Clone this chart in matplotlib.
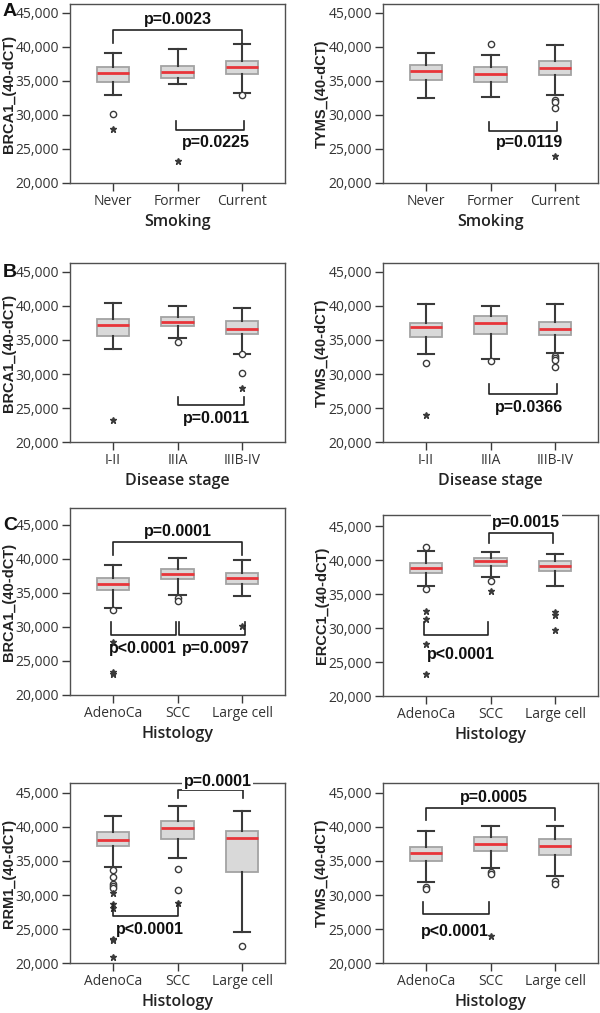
import matplotlib.pyplot as plt

# Categories
smoking = ["Never", "Former", "Current"]
stage = ["I-II", "IIIA", "IIIB-IV"]
histology = ["AdenoCa", "SCC", "Large cell"]

# A left: BRCA1 by smoking
a1_lo = [33000, 34620, 33300]
a1_q1 = [34900, 35500, 36000]
a1_med = [36240, 36300, 37120]
a1_q3 = [37120, 37220, 37950]
a1_hi = [39070, 39750, 40400]
a1_circles = [[30100], [], [32900]]
a1_stars = [[27900], [23200], []]

# A right: TYMS by smoking
a2_lo = [32440, 32680, 32930]
a2_q1 = [35150, 34900, 35950]
a2_med = [36540, 36100, 36930]
a2_q3 = [37320, 37070, 37950]
a2_hi = [39120, 38780, 40240]
a2_circles = [[], [40390], [32240, 31950, 31070]]
a2_stars = [[], [], [24000]]

# B left: BRCA1 by disease stage
b1_lo = [33680, 35250, 32940]
b1_q1 = [35590, 37060, 35830]
b1_med = [37250, 37700, 36670]
b1_q3 = [38040, 38430, 37750]
b1_hi = [40390, 39950, 39660]
b1_circles = [[], [34760], [32900, 30200]]
b1_stars = [[23190], [], [27890]]

# B right: TYMS by disease stage
b2_lo = [32940, 32260, 33040]
b2_q1 = [35390, 35880, 35740]
b2_med = [36860, 37550, 36620]
b2_q3 = [37550, 38530, 37600]
b2_hi = [40290, 39950, 40290]
b2_circles = [[31670], [31960], [32650, 32300, 32060, 30980]]
b2_stars = [[23930], [], []]

# C: BRCA1 by histology
c1_lo = [32760, 34700, 34560]
c1_q1 = [35410, 37070, 36340]
c1_med = [36340, 37850, 37270]
c1_q3 = [37170, 38590, 37950]
c1_hi = [39170, 40150, 39850]
c1_circles = [[32460], [34270, 33780], []]
c1_stars = [[27730, 23340, 23150], [], [30200]]

# C: ERCC1 by histology
c2_lo = [36190, 37560, 36240]
c2_q1 = [38150, 39170, 38340]
c2_med = [38830, 39850, 39170]
c2_q3 = [39610, 40240, 39850]
c2_hi = [41370, 41220, 40930]
c2_circles = [[41960, 35760], [36980], []]
c2_stars = [[32440, 31370, 27650, 23170], [35420], [32290, 31900, 29660]]

# C: RRM1 by histology
c3_lo = [34110, 35480, 24490]
c3_q1 = [37150, 38260, 33380]
c3_med = [38070, 39870, 38360]
c3_q3 = [39290, 40900, 39430]
c3_hi = [41580, 43100, 42360]
c3_circles = [[33670, 32600, 31620, 31330, 31040], [33870, 30790], [22540]]
c3_stars = [[30350, 28690, 28110, 23520, 23320, 20830], [28890], []]

# C: TYMS by histology
c4_lo = [31910, 34010, 32790]
c4_q1 = [34990, 36500, 35820]
c4_med = [36210, 37530, 37190]
c4_q3 = [37000, 38460, 38260]
c4_hi = [39380, 40210, 40210]
c4_circles = [[31130, 30840], [33330, 33090], [32110, 31620]]
c4_stars = [[], [24000], []]

W, H = 600, 1013
fig = plt.figure(figsize=(W / 100, H / 100), dpi=100)

DARK = "#3a3a3a"
PX_PER_1000 = 6.8


def make_axes(left_px, bottom_px, ytop):
    width_px = 215
    height_px = (ytop - 20000) / 1000 * PX_PER_1000
    ax = fig.add_axes([left_px / W, 1 - bottom_px / H, width_px / W, height_px / H])
    ax.set_ylim(20000, ytop)
    ax.set_xlim(0.34, 3.66)
    return ax, height_px


def draw_panel(ax, h_px, cats, lo, q1, med, q3, hi, circles, stars, ylabel, xlabel):
    stats = []
    for i in range(len(cats)):
        stats.append(dict(med=med[i], q1=q1[i], q3=q3[i], whislo=lo[i], whishi=hi[i], fliers=[]))
    ax.bxp(stats, positions=[1, 2, 3], widths=0.5, showfliers=False, patch_artist=True,
           boxprops=dict(facecolor="#d9d9d9", edgecolor="#a3a3a3", linewidth=1.3),
           medianprops=dict(color="#e8353a", linewidth=2),
           whiskerprops=dict(color=DARK, linewidth=1.5),
           capprops=dict(color=DARK, linewidth=1.5))
    for i in range(len(cats)):
        ax.plot([i + 1] * len(circles[i]), circles[i], "o", ms=4.5, mfc="white",
                mec=DARK, mew=1.0, zorder=4)
        ax.plot([i + 1] * len(stars[i]), stars[i], "*", ms=4.5, color=DARK, zorder=4)
    ax.set_xticks([1, 2, 3])
    ax.set_xticklabels(cats, family="Open Sans", fontsize=10, color="#333333")
    ax.set_yticks([20000, 25000, 30000, 35000, 40000, 45000])
    ax.set_yticklabels(["20,000", "25,000", "30,000", "35,000", "40,000", "45,000"],
                       family="Open Sans", fontsize=10, color="#333333")
    ax.tick_params(length=6, width=1, color=DARK, pad=2)
    for s in ax.spines.values():
        s.set_color("#505050")
        s.set_linewidth(1.0)
    ax.set_ylabel(ylabel, family="Liberation Sans", fontweight="bold", fontsize=10.5, color="#222222")
    ax.yaxis.set_label_coords(-0.25, 0.5)
    ax.set_xlabel(xlabel, family="Open Sans", fontweight="semibold", fontsize=11.5, color="#222222")
    ax.xaxis.set_label_coords(0.5, -31 / h_px)


def bracket(ax, x1, x2, y_top, y_bar, label, tx, ty, white=False):
    ax.plot([x1, x1, x2, x2], [y_top, y_bar, y_bar, y_top], color="#222222", lw=1.2, zorder=5,
            clip_on=False)
    kw = dict(bbox=dict(facecolor="white", edgecolor="none", pad=1)) if white else {}
    ax.text(tx, ty, label, ha="center", va="center", family="Liberation Sans",
            fontweight="bold", fontsize=11.5, color="#111111", zorder=6, clip_on=False, **kw)


ax, h = make_axes(70, 183, 46300)
draw_panel(ax, h, smoking, a1_lo, a1_q1, a1_med, a1_q3, a1_hi, a1_circles, a1_stars,
           "BRCA1_(40-dCT)", "Smoking")
bracket(ax, 1, 3, 40630, 42440, "p=0.0023", 2.0, 44070)
bracket(ax, 1.97, 3.02, 29070, 27800, "p=0.0225", 2.6, 25930)

ax, h = make_axes(383, 183, 46300)
draw_panel(ax, h, smoking, a2_lo, a2_q1, a2_med, a2_q3, a2_hi, a2_circles, a2_stars,
           "TYMS_(40-dCT)", "Smoking")
bracket(ax, 1.98, 3.02, 29020, 27660, "p=0.0119", 2.6, 25930)

ax, h = make_axes(70, 442, 46300)
draw_panel(ax, h, stage, b1_lo, b1_q1, b1_med, b1_q3, b1_hi, b1_circles, b1_stars,
           "BRCA1_(40-dCT)", "Disease stage")
bracket(ax, 2.0, 3.03, 26570, 25390, "p=0.0011", 2.6, 23480)

ax, h = make_axes(383, 442, 46300)
draw_panel(ax, h, stage, b2_lo, b2_q1, b2_med, b2_q3, b2_hi, b2_circles, b2_stars,
           "TYMS_(40-dCT)", "Disease stage")
bracket(ax, 1.98, 3.03, 28480, 27060, "p=0.0366", 2.6, 25100)

ax, h = make_axes(70, 695, 47500)
draw_panel(ax, h, histology, c1_lo, c1_q1, c1_med, c1_q3, c1_hi, c1_circles, c1_stars,
           "BRCA1_(40-dCT)", "Histology")
bracket(ax, 1, 3, 40630, 42540, "p=0.0001", 2.0, 44020)
bracket(ax, 0.97, 1.97, 30780, 28830, "p<0.0001", 1.47, 26800)
bracket(ax, 2.03, 3.04, 30780, 28830, "p=0.0097", 2.6, 26800)

ax, h = make_axes(383, 696, 46600)
draw_panel(ax, h, histology, c2_lo, c2_q1, c2_med, c2_q3, c2_hi, c2_circles, c2_stars,
           "ERCC1_(40-dCT)", "Histology")
bracket(ax, 1.98, 2.97, 42460, 43930, "p=0.0015", 2.55, 45490, white=True)
bracket(ax, 0.97, 1.96, 30830, 28980, "p<0.0001", 1.55, 26100)

ax, h = make_axes(70, 963, 46470)
draw_panel(ax, h, histology, c3_lo, c3_q1, c3_med, c3_q3, c3_hi, c3_circles, c3_stars,
           "RRM1_(40-dCT)", "Histology")
bracket(ax, 2.0, 3.01, 44270, 45490, "p=0.0001", 2.62, 46760, white=True)
bracket(ax, 1.01, 2.0, 28700, 26840, "p<0.0001", 1.57, 24980)

ax, h = make_axes(383, 963, 46470)
draw_panel(ax, h, histology, c4_lo, c4_q1, c4_med, c4_q3, c4_hi, c4_circles, c4_stars,
           "TYMS_(40-dCT)", "Histology")
bracket(ax, 1, 3, 41000, 42800, "p=0.0005", 2.05, 44320)
bracket(ax, 0.96, 1.97, 29030, 27230, "p<0.0001", 1.45, 24640)

# panel letters
for letter, ypx in [("A", 12), ("B", 272), ("C", 525)]:
    fig.text(3 / W, 1 - ypx / H, letter, ha="left", va="center", family="Liberation Sans",
             fontweight="bold", fontsize=14, color="#111111")

fig.savefig("out.png", dpi=100, facecolor="white")
